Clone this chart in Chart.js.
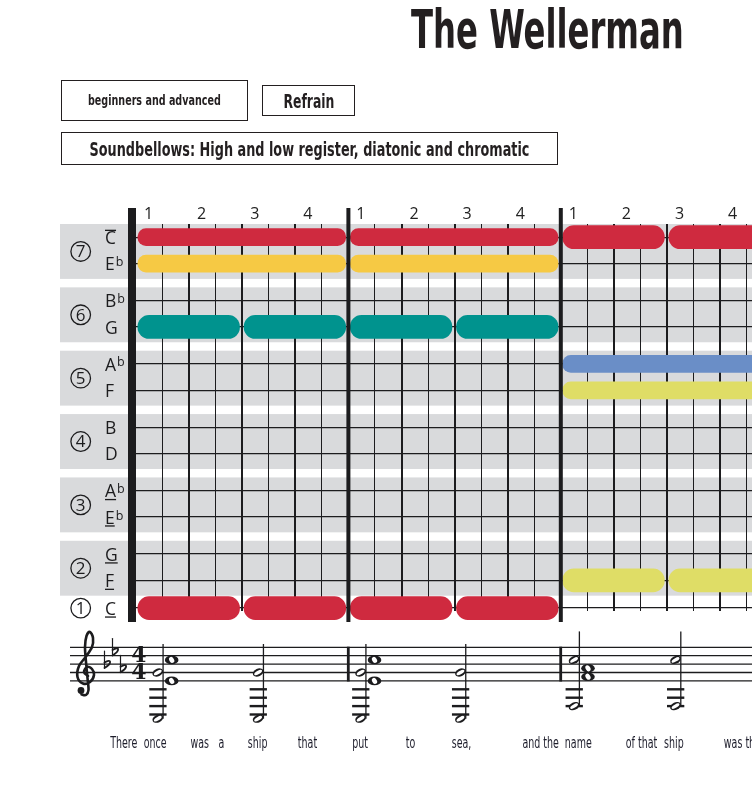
<!DOCTYPE html>
<html><head><meta charset="utf-8">
<script src="https://cdn.jsdelivr.net/npm/chart.js@4.4.1/dist/chart.umd.min.js"></script>
<style>
html,body{margin:0;padding:0;background:#fff;width:752px;height:786px;overflow:hidden;position:relative}
#c{position:absolute;left:0;top:0}
.t{position:absolute;white-space:nowrap;font-family:'Liberation Sans Narrow','DejaVu Sans Condensed','Liberation Sans',sans-serif;color:#231f20;transform-origin:left top;line-height:1}
.box{position:absolute;border:1.5px solid #231f20;box-sizing:border-box;display:flex;align-items:center;justify-content:center}
.lbl{display:inline-block;white-space:nowrap;font-family:'Liberation Sans Narrow','DejaVu Sans Condensed','Liberation Sans',sans-serif;color:#231f20;font-weight:bold;transform-origin:center center;line-height:1}
</style></head><body>
<canvas id="c" width="752" height="786"></canvas>
<div class="t" id="title" style="left:411px;top:3px;font-size:53.5px;font-weight:bold">The Wellerman</div>
<div class="box" style="left:61px;top:80px;width:187px;height:41px"><span class="lbl" id="b1" style="font-size:14.5px">beginners and advanced</span></div>
<div class="box" style="left:262px;top:85px;width:93px;height:31px"><span class="lbl" id="b2" style="font-size:20px">Refrain</span></div>
<div class="box" style="left:61px;top:132px;width:497px;height:33px"><span class="lbl" id="b3" style="font-size:20px">Soundbellows: High and low register, diatonic and chromatic</span></div>
<script>
// ---------- data ----------
const rowLetters     = ['C','E','B','G','A','F','B','D','A','E','G','F','C'];
const rowAccidentals = ['', 'b','b','', 'b','', '', '', 'b','b','', '', ''];
const buttonNumbers  = [7, 6, 5, 4, 3, 2, 1];
const beatLabels     = ['1','2','3','4'];

const noteRow   = [0, 1, 3, 3, 12, 12,   0, 1, 3, 3, 12, 12,   0, 0, 4, 5, 11, 11];
const noteStart = [0, 0, 0, 2, 0, 2,     4, 4, 4, 6, 4, 6,     8, 10, 8, 8, 8, 10];
const noteBeats = [4, 4, 2, 2, 2, 2,     4, 4, 2, 2, 2, 2,     2, 2, 4, 4, 2, 2];

const lyricWords = ['There','once','was','a','ship','that','put','to','sea,','and the','name','of that','ship','was the'];
const lyricBeat  = [-0.23, 0.36, 1.2, 1.61, 2.29, 3.23, 4.22, 5.17, 6.13, 7.62, 8.33, 9.52, 10.13, 11.42];

const staffBeat  = [0.51, 2.40, 4.33, 6.21, 8.35, 10.26];
const staffHalf  = [[6,17],[6,17],[6,17],[6,17],[3,14],[3,14]];
const staffWhole = [[3,8],[],[3,8],[],[5,7],[]];

// ---------- style ----------
const pitchColors = {C:'#cf2a3f', Eb:'#f6c944', G:'#00938e', Ab:'#6a8ec7', F:'#dfdd66'};
const INK = '#1c1c1e';
const BAND_STEP = 2.4, C_ROW_POS = 14.05;
function rowPos(i){ return i === 12 ? C_ROW_POS : Math.floor(i/2)*BAND_STEP + (i%2); }
function pitchOf(i){ return rowLetters[i] + rowAccidentals[i]; }
const GAP_S = 0.035, GAP_E = 0.05;

function makeSet(filter, thick, label){
  const idx = noteRow.map((r,i)=>i).filter(filter);
  return {
    label,
    data: idx.map(i => ({x:[noteStart[i]+GAP_S, noteStart[i]+noteBeats[i]-GAP_E], y: rowPos(noteRow[i])})),
    backgroundColor: idx.map(i => pitchColors[pitchOf(noteRow[i])]),
    barThickness: thick,
    borderRadius: 20,
    borderSkipped: false,
    grouped: false,
    clip: {left:0, right:0, top:12, bottom:14}
  };
}

const condensed = "'Liberation Sans Narrow','DejaVu Sans Condensed','Liberation Sans',sans-serif";

function spline(ctx, pts){
  ctx.moveTo(pts[0][0], pts[0][1]);
  for (let i=0;i<pts.length-1;i++){
    const p0 = pts[i-1]||pts[i], p1 = pts[i], p2 = pts[i+1], p3 = pts[i+2]||pts[i+1];
    ctx.bezierCurveTo(p1[0]+(p2[0]-p0[0])/6, p1[1]+(p2[1]-p0[1])/6,
                      p2[0]-(p3[0]-p1[0])/6, p2[1]-(p3[1]-p1[1])/6, p2[0], p2[1]);
  }
}

const decor = {
  id: 'decor',
  beforeDraw(chart){
    const {ctx, scales:{y}} = chart;
    ctx.save(); ctx.fillStyle = '#d9dadc';
    for (let p=0;p<6;p++){
      const t = y.getPixelForValue(rowPos(2*p)-0.5), b = y.getPixelForValue(rowPos(2*p+1)+0.58);
      ctx.fillRect(60, t, chart.width-60, b-t);
    }
    ctx.restore();
  },
  afterDatasetsDraw(chart){
    const {ctx, scales:{x}} = chart;
    ctx.save(); ctx.fillStyle = INK;
    [0,4,8].forEach(m => {
      const px = x.getPixelForValue(m);
      if (m === 0) ctx.fillRect(px-8, 208, 8, 414);
      else ctx.fillRect(px-2, 208, 4, 414);
    });
    ctx.restore();
  },
  afterDraw(chart){
    const {ctx, scales:{x,y}} = chart;
    ctx.save();
    // left labels
    ctx.strokeStyle = INK; ctx.fillStyle = INK; ctx.lineWidth = 1.3;
    for (let p=0;p<7;p++){
      let cy;
      if (p < 6){
        const t = y.getPixelForValue(rowPos(2*p)-0.5), b = y.getPixelForValue(rowPos(2*p+1)+0.58);
        cy = (t+b)/2;
      } else cy = y.getPixelForValue(rowPos(12));
      ctx.beginPath(); ctx.arc(80.7, cy, 9.8, 0, Math.PI*2); ctx.stroke();
      ctx.font = "17px 'Open Sans', sans-serif"; ctx.textAlign='center'; ctx.textBaseline='middle';
      ctx.fillText(String(buttonNumbers[p]), 80.7, cy+1);
    }
    ctx.textAlign='left'; ctx.textBaseline='alphabetic';
    for (let i=0;i<rowLetters.length;i++){
      const ry = y.getPixelForValue(rowPos(i));
      ctx.font = "17.5px 'Open Sans', sans-serif";
      const w = ctx.measureText(rowLetters[i]).width;
      ctx.fillText(rowLetters[i], 105, ry+6.8);
      if (rowAccidentals[i]){
        ctx.font = "12.5px 'Open Sans', sans-serif";
        ctx.fillText(rowAccidentals[i], 105+w+1, ry+2.5);
      }
      if (i === 0){ ctx.fillRect(105, ry-7.5, w, 1.3); }
      if (i >= 8){ ctx.fillRect(105, ry+8.3, w, 1.3); }
    }
    // staff
    const st = 647.3, sp = 8.4;
    const sy = s => st + s*sp/2;
    ctx.lineWidth = 1.3;
    for (let k=0;k<5;k++){ ctx.beginPath(); ctx.moveTo(70, sy(2*k)); ctx.lineTo(chart.width, sy(2*k)); ctx.stroke(); }
    [4,8].forEach(m => { const px = x.getPixelForValue(m); ctx.fillRect(px-1.5, sy(0)-0.6, 2.8, sy(8)-sy(0)+1.2); });
    // clef
    const clef = [[88,676],[84,672],[87,667],[92,669],[94,675],[90,682],[83,683.5],[77.5,677],[79,666],[86,656.5],[92,647],[93,638],[90,632],[86.5,636],[85,647],[86,662],[87.5,678],[88.5,690],[86,695],[81.5,694.5]];
    ctx.lineWidth = 2.6; ctx.lineCap='round'; ctx.lineJoin='round';
    ctx.beginPath(); spline(ctx, clef); ctx.stroke();
    ctx.beginPath(); ctx.arc(81,690.5,3.4,0,Math.PI*2); ctx.fill();
    // key signature flats
    function flat(fx, fy){
      ctx.lineWidth = 1.2; ctx.beginPath(); ctx.moveTo(fx, fy-13); ctx.lineTo(fx, fy+4); ctx.stroke();
      ctx.lineWidth = 1.8; ctx.beginPath(); ctx.moveTo(fx, fy+4); ctx.bezierCurveTo(fx+8, fy-1, fx+7, fy-6, fx, fy-1.5); ctx.stroke();
    }
    flat(104.5, sy(4)); flat(112.5, sy(1)); flat(120.5, sy(5));
    // time signature
    ctx.font = "bold 22px 'DejaVu Serif', serif"; ctx.textAlign='center'; ctx.textBaseline='middle';
    ctx.fillText('4', 139, sy(2)+1); ctx.fillText('4', 139, sy(6)+1);
    // notes
    function halfHead(cx, cy){
      ctx.save(); ctx.translate(cx, cy); ctx.rotate(-0.42);
      ctx.beginPath(); ctx.ellipse(0,0,5.6,3.8,0,0,Math.PI*2); ctx.fillStyle=INK; ctx.fill();
      ctx.rotate(-0.12); ctx.beginPath(); ctx.ellipse(0,0,4.4,1.7,0,0,Math.PI*2); ctx.fillStyle='#fff'; ctx.fill();
      ctx.restore();
    }
    function wholeHead(cx, cy){
      ctx.save(); ctx.translate(cx, cy);
      ctx.beginPath(); ctx.ellipse(0,0,6.8,4.3,0,0,Math.PI*2); ctx.fillStyle=INK; ctx.fill();
      ctx.rotate(1.0); ctx.beginPath(); ctx.ellipse(0,0,3.2,2.3,0,0,Math.PI*2); ctx.fillStyle='#fff'; ctx.fill();
      ctx.restore();
    }
    ctx.lineCap='butt';
    for (let e=0;e<staffBeat.length;e++){
      const stemX = x.getPixelForValue(staffBeat[e]);
      const headX = stemX - 5.3;
      const hs = staffHalf[e];
      const low = Math.max(...hs), high = Math.min(...hs);
      ctx.lineWidth = 2.4; ctx.strokeStyle = INK;
      for (let s=10; s<=low; s+=2){ ctx.beginPath(); ctx.moveTo(headX-8.5, sy(s)); ctx.lineTo(stemX+3.5, sy(s)); ctx.stroke(); }
      ctx.lineWidth = 1.3;
      ctx.beginPath(); ctx.moveTo(stemX, sy(low)); ctx.lineTo(stemX, sy(high)-28.5); ctx.stroke();
      hs.forEach(s => halfHead(headX, sy(s)));
      staffWhole[e].forEach(s => wholeHead(stemX+8.6, sy(s)));
    }
    // lyrics
    ctx.fillStyle = '#1d1d2b'; ctx.textAlign='center'; ctx.textBaseline='alphabetic';
    ctx.font = "16.5px " + condensed;
    lyricWords.forEach((w,i) => {
      const lx = x.getPixelForValue(lyricBeat[i]);
      ctx.save(); ctx.translate(lx, 748); ctx.scale(0.64,1); ctx.fillText(w, 0, 0); ctx.restore();
    });
    ctx.restore();
  }
};

const PX_MAX = (752-136)/53.1;
new Chart(document.getElementById('c'), {
  type: 'bar',
  data: { datasets: [
    makeSet(i => noteBeats[i] >= 4, 17, 'whole notes'),
    makeSet(i => noteBeats[i] < 4, 23, 'half notes')
  ]},
  options: {
    indexAxis: 'y',
    responsive: false, animation: false, devicePixelRatio: 1,
    layout: { autoPadding: false, padding: {left:136, right:0, top:200, bottom:175} },
    plugins: { legend:{display:false}, tooltip:{enabled:false}, title:{display:false} },
    scales: {
      x: {
        type:'linear', position:'top', min:0, max:PX_MAX, offset:false,
        afterFit(s){ s.height = 24; },
        border:{display:false},
        grid:{ drawTicks:false, color: INK, offset:false,
          lineWidth: c => { const v = c.tick ? c.tick.value : 0; return (Math.abs(v%4)<1e-6) ? 0 : (Math.abs(v%1)<1e-6 ? 2 : 1); } },
        ticks:{ stepSize:0.5, autoSkip:false, maxRotation:0, includeBounds:false, labelOffset:12.5, padding:0,
          color:'#222', font:{family:"'Open Sans', sans-serif", size:16},
          callback: v => Number.isInteger(v) ? beatLabels[v%4] : '' }
      },
      y: {
        type:'linear', reverse:true, min:-0.5, max:14.16, offset:false,
        afterFit(s){ s.width = 0; },
        afterBuildTicks(s){ s.ticks = rowLetters.map((l,i) => ({value: rowPos(i)})); },
        border:{display:false},
        grid:{ drawTicks:false, color: INK, lineWidth: 1.3, offset:false },
        ticks:{ display:false }
      }
    }
  },
  plugins: [decor]
});

// fit HTML texts to measured widths
function fit(id, target){
  const el = document.getElementById(id);
  const w = el.offsetWidth;
  el.style.transform = 'scaleX(' + (target/w) + ')';
}
fit('title', 273); fit('b1', 133); fit('b2', 51); fit('b3', 440);
</script>
</body></html>
